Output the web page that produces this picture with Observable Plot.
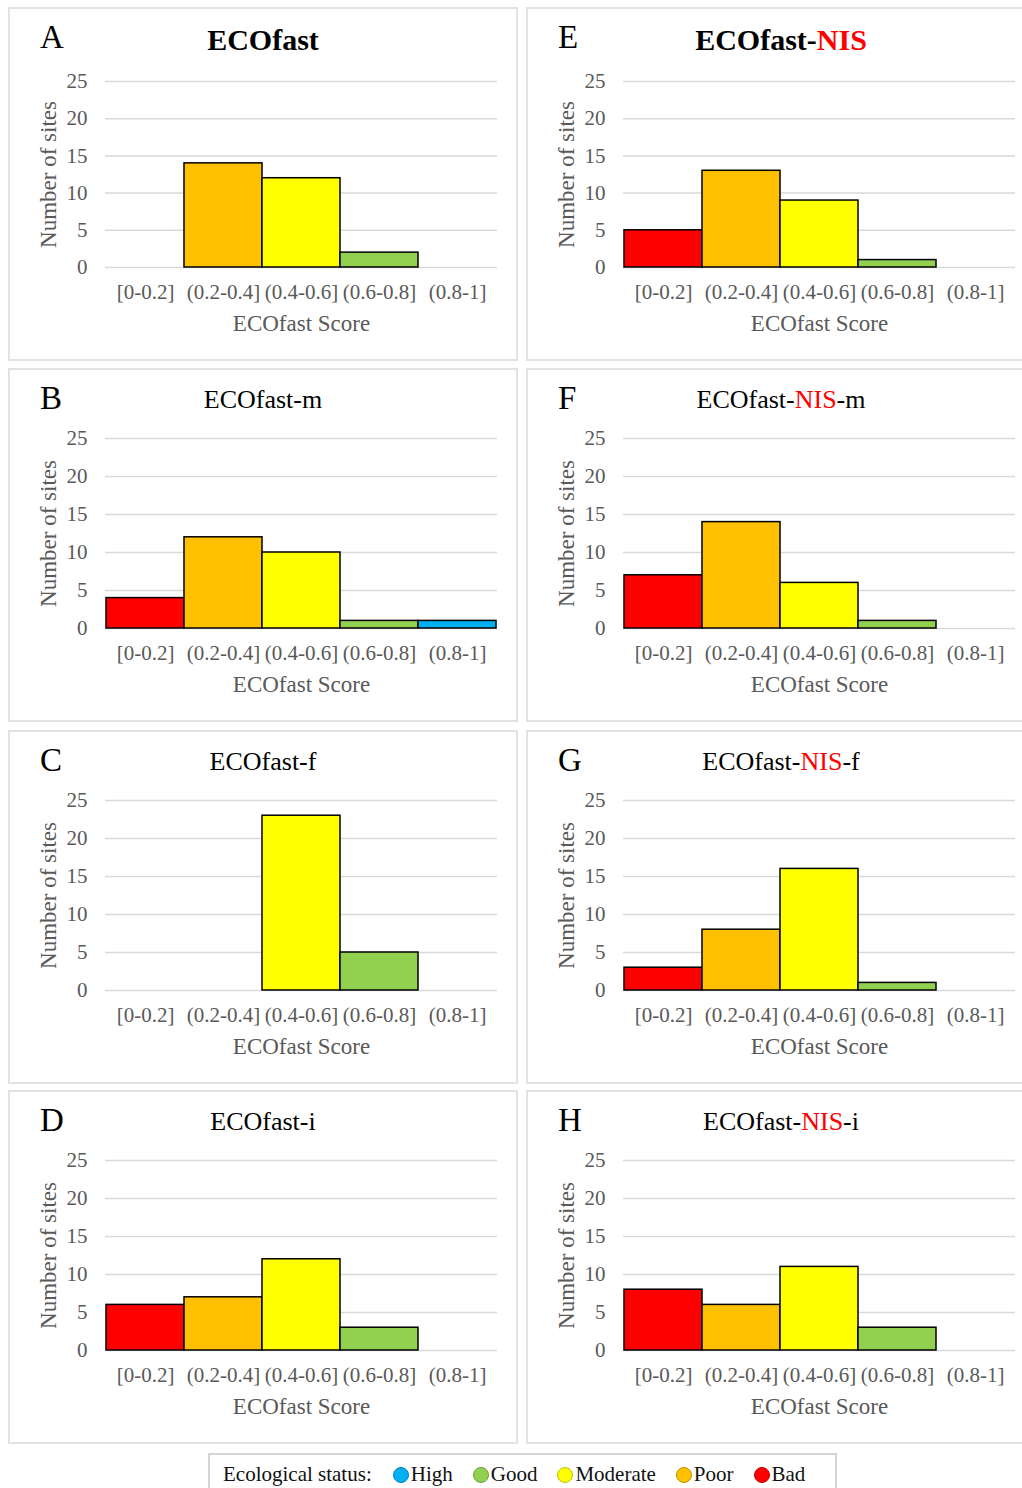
<!DOCTYPE html>
<html>
<head>
<meta charset="utf-8">
<script src="https://cdn.jsdelivr.net/npm/d3@7"></script>
<script src="https://cdn.jsdelivr.net/npm/@observablehq/plot@0.6"></script>
<style>
  html, body { margin: 0; padding: 0; background: #fff; overflow: hidden; }
  body { width: 1022px; height: 1488px; position: relative; font-family: "Liberation Serif", "Times New Roman", serif; }
  .panel { position: absolute; width: 510px; height: 354px; box-sizing: border-box; border: 2px solid #e2e2e2; }
  .panel svg { position: absolute; left: -2px; top: -2px; overflow: visible; max-width: none !important; }
  .letter { position: absolute; left: 30px; font-size: 33px; line-height: 1; color: #000; }
  .title { position: absolute; left: -2px; width: 510px; text-align: center; line-height: 1; color: #000; }
  .nis { color: #ff0000; }
  .legend { position: absolute; left: 208px; top: 1453px; width: 629px; height: 41px; box-sizing: border-box; border: 2px solid #d4d4d4; border-bottom: none; display: flex; align-items: center; padding-left: 13px; font-size: 21px; color: #111; white-space: nowrap; overflow: visible; }
  .legend .lt { margin-right: 21px; flex-shrink: 0; white-space: nowrap; }
  .legend .item { display: flex; align-items: center; margin-right: 20px; flex-shrink: 0; white-space: nowrap; }
  .legend .dot { width: 16px; height: 16px; border-radius: 50%; box-sizing: border-box; border: 1px solid #555; margin-right: 2px; flex-shrink: 0; }
</style>
</head>
<body>
<script>
// ---------- data ----------
const bins = ["[0-0.2]", "(0.2-0.4]", "(0.4-0.6]", "(0.6-0.8]", "(0.8-1]"];
const binStatus = ["Bad", "Poor", "Moderate", "Good", "High"];
const statusOrder = ["High", "Good", "Moderate", "Poor", "Bad"];
const statusColors = ["#00B0F0", "#92D050", "#FFFF00", "#FFC000", "#FF0000"];
const yTicks = [0, 5, 10, 15, 20, 25];
const yLabel = "Number of sites";
const xLabel = "ECOfast Score";
const legendTitle = "Ecological status:";

const countsA = [0, 14, 12, 2, 0];   // ECOfast
const countsB = [4, 12, 10, 1, 1];   // ECOfast-m
const countsC = [0, 0, 23, 5, 0];    // ECOfast-f
const countsD = [6, 7, 12, 3, 0];    // ECOfast-i
const countsE = [5, 13, 9, 1, 0];    // ECOfast-NIS
const countsF = [7, 14, 6, 1, 0];    // ECOfast-NIS-m
const countsG = [3, 8, 16, 1, 0];    // ECOfast-NIS-f
const countsH = [8, 6, 11, 3, 0];    // ECOfast-NIS-i

const panelLetters = ["A", "B", "C", "D", "E", "F", "G", "H"];
const panelTitleBase = ["ECOfast", "ECOfast-m", "ECOfast-f", "ECOfast-i", "ECOfast-", "ECOfast-", "ECOfast-", "ECOfast-"];
const panelTitleNIS = ["", "", "", "", "NIS", "NIS", "NIS", "NIS"];
const panelTitleSuffix = ["", "", "", "", "", "-m", "-f", "-i"];
const panelCounts = [countsA, countsB, countsC, countsD, countsE, countsF, countsG, countsH];

// ---------- layout ----------
const colLeft = [8, 526];
const rowTop = [7, 368, 730, 1090];

function colorOf(status) { return statusColors[statusOrder.indexOf(status)]; }

function makeChart(counts, marginTop) {
  const data = bins.map((b, i) => ({bin: b, n: counts[i], color: colorOf(binStatus[i])}));
  return Plot.plot({
    width: 510, height: 354,
    marginLeft: 97, marginRight: 21, marginTop: marginTop, marginBottom: 94,
    style: {fontFamily: "'Liberation Serif', 'Times New Roman', serif", fontSize: "21px", color: "#595959", background: "transparent", overflow: "visible", maxWidth: "none"},
    x: {domain: bins, padding: 0, label: null},
    y: {domain: [0, 25], label: null},
    color: {type: "identity"},
    marks: [
      Plot.gridY(yTicks, {stroke: "#d9d9d9", strokeOpacity: 1, strokeWidth: 1.5}),
      Plot.barY(data.filter(d => d.n > 0), {x: "bin", y: "n", fill: "color", stroke: "#000", strokeWidth: 1.5}),
      Plot.axisX({tickSize: 0, tickPadding: 17, fontSize: 21, fill: "#595959", label: null}),
      Plot.axisY(yTicks, {tickSize: 0, tickPadding: 18, fontSize: 21, fill: "#595959", label: null}),
      Plot.text([yLabel], {frameAnchor: "left", textAnchor: "middle", dx: -57, rotate: -90, fontSize: 23, fill: "#595959"}),
      Plot.text([xLabel], {frameAnchor: "bottom", textAnchor: "middle", dy: 63, fontSize: 23, fill: "#595959"})
    ]
  });
}

panelLetters.forEach((letter, i) => {
  const col = Math.floor(i / 4), row = i % 4;
  const bold = row === 0;
  const div = document.createElement("div");
  div.className = "panel";
  div.style.left = colLeft[col] + "px";
  div.style.top = rowTop[row] + "px";
  div.appendChild(makeChart(panelCounts[i], bold ? 74 : 70));

  const L = document.createElement("div");
  L.className = "letter";
  L.textContent = letter;
  L.style.top = "12px";
  div.appendChild(L);

  const T = document.createElement("div");
  T.className = "title";
  T.style.fontSize = bold ? "30px" : "26px";
  T.style.fontWeight = bold ? "bold" : "normal";
  T.style.top = bold ? "16px" : "17px";
  T.appendChild(document.createTextNode(panelTitleBase[i]));
  if (panelTitleNIS[i]) {
    const s = document.createElement("span");
    s.className = "nis";
    s.textContent = panelTitleNIS[i];
    T.appendChild(s);
  }
  if (panelTitleSuffix[i]) T.appendChild(document.createTextNode(panelTitleSuffix[i]));
  div.appendChild(T);
  document.body.appendChild(div);
});

// ---------- legend ----------
const leg = document.createElement("div");
leg.className = "legend";
const lt = document.createElement("span");
lt.className = "lt";
lt.textContent = legendTitle;
leg.appendChild(lt);
statusOrder.forEach((s, i) => {
  const item = document.createElement("span");
  item.className = "item";
  const dot = document.createElement("span");
  dot.className = "dot";
  dot.style.background = statusColors[i];
  dot.style.borderColor = d3.color(statusColors[i]).darker(0.8).formatHex();
  item.appendChild(dot);
  item.appendChild(document.createTextNode(s));
  leg.appendChild(item);
});
document.body.appendChild(leg);
</script>
</body>
</html>
